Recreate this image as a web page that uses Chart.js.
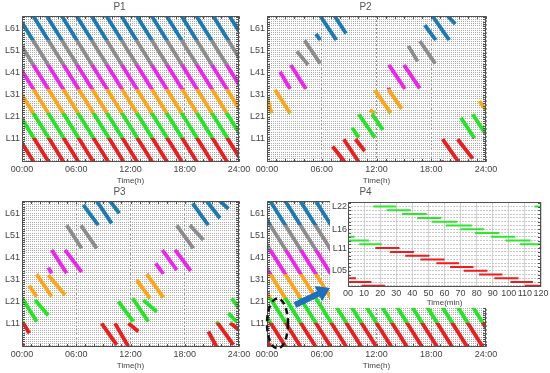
<!DOCTYPE html>
<html>
<head>
<meta charset="utf-8">
<script src="https://cdn.jsdelivr.net/npm/chart.js@4.4.0/dist/chart.umd.min.js"></script>
<style>
  body { margin: 0; background: #fff; }
  #wrap { position: relative; width: 550px; height: 373px; overflow: hidden; }
  canvas { position: absolute; }
</style>
</head>
<body>
<div id="wrap">
  <canvas id="p1" width="261" height="186" style="left:0;top:0"></canvas>
  <canvas id="p2" width="263" height="186" style="left:245px;top:0"></canvas>
  <canvas id="p3" width="261" height="186" style="left:0;top:185px"></canvas>
  <canvas id="p4" width="263" height="186" style="left:245px;top:185px"></canvas>
  <canvas id="zoom" width="220" height="112" style="left:330px;top:196px"></canvas>
</div>
<script>
// axis ticks
const hourTicks = [0, 6, 12, 18, 24];
const hourLabels = ['00:00', '06:00', '12:00', '18:00', '24:00'];
const lineTicks = [11, 21, 31, 41, 51, 61];
const lineLabels = ['L11', 'L21', 'L31', 'L41', 'L51', 'L61'];
const zoomMinTicks = [0, 10, 20, 30, 40, 50, 60, 70, 80, 90, 100, 110, 120];
const zoomMinLabels = ['00', '10', '20', '30', '40', '50', '60', '70', '80', '90', '100', '110', '120'];
const zoomLineTicks = [5, 11, 16, 22];
const zoomLineLabels = ['L05', 'L11', 'L16', 'L22'];

// line groups, bottom to top: L1-L11 red, L12-L22 green, ... L56-L66 blue
const bandColors = ['#ee1c1c', '#22e622', '#ffa514', '#f022f0', '#8c8c8c', '#1a7ab3'];
const bandEdges = [0.5, 11.5, 22.5, 33.5, 44.5, 55.5, 66.5];

// P1: through trains, hour they pass the top line and the bottom line
const p1Top = [-8.7, -7.05, -5.4, -3.75, -2.1, -0.45, 1.25, 2.75, 4.4, 6.05, 7.7, 9.35, 11.0, 12.7, 14.35, 16.0, 17.65, 19.3, 21.15, 22.95];
const p1Bottom = [1.3, 2.95, 4.6, 6.25, 7.9, 9.55, 11.25, 12.75, 14.4, 16.05, 17.7, 19.35, 21.0, 22.7, 24.35, 26.0, 27.65, 29.3, 31.15, 32.95];

// P4: same kind of schedule, other phase
const p4Top = [-9.6, -7.95, -6.3, -4.65, -3.0, -1.3, 0.35, 2.0, 3.65, 5.35, 7.0, 8.65, 10.3, 11.95, 13.65, 15.3, 16.95, 18.6, 20.25, 21.95, 23.6];
const p4Bottom = [0.4, 2.05, 3.7, 5.35, 7.0, 8.7, 10.35, 12.0, 13.65, 15.35, 17.0, 18.65, 20.3, 21.95, 23.65, 25.3, 26.95, 28.6, 30.25, 31.95, 33.6];

// P2, P3: [hour start, line start, hour end, line end]
const p2Segs = [
  [0.0, 29.8, 0.5, 22.5], [0.88, 33.2, 2.53, 22.5],
  [1.43, 41.3, 2.53, 33.5], [2.61, 44.4, 4.26, 33.5],
  [3.27, 50.5, 4.5, 44.5], [4.11, 55.5, 5.84, 45.0],
  [5.36, 58.4, 5.84, 55.6], [5.84, 66.5, 7.6, 55.6], [7.41, 66.5, 8.66, 58.6],
  [7.19, 7.5, 8.52, 0.5], [8.41, 10.8, 10.06, 0.5], [9.69, 10.8, 10.72, 5.5],
  [9.32, 16.0, 10.06, 11.5], [10.06, 22.1, 11.82, 11.5], [11.53, 22.1, 12.7, 15.0],
  [11.27, 24.0, 11.82, 22.6], [11.82, 33.0, 13.55, 22.6], [13.36, 33.0, 14.76, 24.5],
  [13.29, 34.0, 13.36, 33.5], [13.36, 44.4, 15.12, 33.5], [15.01, 44.4, 16.74, 33.8],
  [15.49, 53.0, 16.5, 46.0], [16.74, 55.2, 18.43, 45.0],
  [17.29, 62.4, 18.5, 55.6], [18.13, 66.5, 19.97, 55.6], [19.79, 66.5, 20.63, 62.9],
  [19.13, 1.0, 19.24, 0.5], [19.24, 10.8, 21.0, 0.5], [20.89, 10.8, 22.54, 2.0],
  [21.26, 20.5, 22.73, 11.2], [22.54, 22.1, 24.0, 13.0],
  [23.27, 28.0, 24.0, 24.0]
];
const p3Segs = [
  [0.0, 2.0, 0.15, 0.5], [0.03, 12.0, 0.81, 6.7],
  [0.03, 22.5, 1.62, 12.0], [1.44, 21.7, 2.91, 14.7],
  [0.81, 28.2, 1.62, 23.3], [1.62, 33.4, 3.28, 23.3], [2.91, 33.0, 4.76, 24.0],
  [2.91, 36.4, 3.28, 33.8], [3.28, 44.4, 4.94, 33.8], [4.76, 44.4, 6.6, 34.3],
  [4.94, 55.5, 6.6, 45.1], [6.52, 55.5, 8.26, 45.1],
  [6.78, 64.7, 8.44, 55.5], [8.26, 66.5, 9.92, 56.4], [9.73, 66.5, 10.77, 60.9],
  [8.81, 11.2, 10.47, 1.5], [10.29, 11.2, 11.76, 0.7], [11.76, 11.2, 12.87, 7.5],
  [10.66, 21.0, 12.31, 12.0], [12.24, 22.5, 13.97, 12.0], [13.42, 21.7, 14.9, 16.5],
  [12.68, 30.8, 14.16, 22.5], [13.79, 33.5, 15.63, 22.8],
  [14.79, 38.3, 15.63, 33.5], [15.52, 44.4, 17.11, 35.3], [16.92, 44.5, 18.66, 34.9],
  [17.11, 55.5, 18.95, 45.1], [18.58, 55.5, 20.06, 48.9],
  [18.88, 65.4, 20.61, 55.5], [20.43, 66.5, 21.9, 58.7], [21.9, 66.5, 22.83, 62.9],
  [20.61, 7.5, 21.53, 0.5], [21.53, 12.0, 23.38, 1.5], [23.01, 11.5, 24.0, 8.2],
  [22.83, 15.7, 23.75, 12.0], [23.2, 22.5, 24.0, 18.0]
];

// zoom of P4, first 120 min: [line, min start, min end]
const zoomGreen = [
  [22, 15.8, 29.8], [22, 116, 120], [21, 24, 39], [20, 33.5, 49], [19, 43, 58],
  [18, 52, 68], [17, 61, 77], [16, 70, 84.6], [15, 79, 94], [14, 89, 104], [14, 0, 4],
  [13, 98, 113.5], [13, 0, 13], [12, 107, 120], [12, 7, 21]
];
const zoomRed = [
  [11, 17, 32], [11, 119, 120], [10, 26, 41], [9, 35.6, 50.6], [8, 45, 60],
  [7, 55, 69], [6, 63.5, 78], [5, 72, 86.7], [4, 81.5, 96], [3, 91, 106], [3, 0, 5],
  [2, 101, 115], [2, 0, 14.6], [1, 110, 120], [1, 8.5, 23]
];

const FONT = "'Liberation Sans', Arial, sans-serif";
const allLines = [];
for (let i = 1; i <= 66; i++) allLines.push(i);
const allHours = [];
for (let i = 0; i <= 24; i++) allHours.push(i);

function bandGradient(chart) {
  const { ctx, chartArea, scales } = chart;
  if (!chartArea) return bandColors[0];
  const y = scales.y;
  const g = ctx.createLinearGradient(0, y.bottom, 0, y.top);
  const span = y.bottom - y.top;
  const f = v => Math.min(1, Math.max(0, (y.bottom - y.getPixelForValue(v)) / span));
  for (let i = 0; i < bandColors.length; i++) {
    g.addColorStop(f(bandEdges[i]), bandColors[i]);
    g.addColorStop(f(bandEdges[i + 1]), bandColors[i]);
  }
  return g;
}

// box round the plot with small ticks on every edge
const framePlugin = {
  id: 'frame',
  afterDatasetsDraw(chart, args, opts) {
    const { ctx, chartArea: a, scales: { x, y } } = chart;
    const L = Math.round(a.left) + 0.5, R = Math.round(a.right) - 0.5;
    const T = Math.round(a.top) + 0.5, B = Math.round(a.bottom) - 0.5;
    ctx.save();
    ctx.strokeStyle = '#505050';
    ctx.lineWidth = 1;
    ctx.strokeRect(L, T, R - L, B - T);
    ctx.beginPath();
    y.ticks.forEach(t => {
      const p = Math.round(y.getPixelForValue(t.value)) + 0.5;
      ctx.moveTo(L, p); ctx.lineTo(L + 2.5, p);
      ctx.moveTo(R, p); ctx.lineTo(R - 2.5, p);
    });
    (opts.minorX || []).forEach(v => {
      const p = Math.round(x.getPixelForValue(v)) + 0.5;
      ctx.moveTo(p, T); ctx.lineTo(p, T + 2.5);
      ctx.moveTo(p, B); ctx.lineTo(p, B - 2.5);
    });
    ctx.stroke();
    ctx.restore();
  }
};

// circle and arrow pointing at the zoom box
const notePlugin = {
  id: 'note',
  afterDraw(chart) {
    const ctx = chart.ctx;
    ctx.save();
    ctx.strokeStyle = '#111';
    ctx.lineWidth = 2.5;
    ctx.setLineDash([6, 4]);
    ctx.beginPath();
    ctx.ellipse(32.5, 138.5, 10.5, 25, 0, 0, Math.PI * 2);
    ctx.stroke();
    ctx.setLineDash([]);
    const x0 = 50, y0 = 120, x1 = 85, y1 = 103;
    const ang = Math.atan2(y1 - y0, x1 - x0);
    const len = Math.hypot(x1 - x0, y1 - y0);
    ctx.translate(x0, y0);
    ctx.rotate(ang);
    ctx.fillStyle = '#1f6fbf';
    ctx.beginPath();
    ctx.moveTo(0, -3); ctx.lineTo(len - 13, -3); ctx.lineTo(len - 13, -8.5);
    ctx.lineTo(len, 0);
    ctx.lineTo(len - 13, 8.5); ctx.lineTo(len - 13, 3); ctx.lineTo(0, 3);
    ctx.closePath();
    ctx.fill();
    ctx.restore();
  }
};

const whiteBg = {
  id: 'whiteBg',
  beforeDraw(chart) {
    const ctx = chart.ctx;
    ctx.save();
    ctx.fillStyle = '#fff';
    ctx.fillRect(0, 0, chart.width, chart.height);
    ctx.restore();
  }
};

function gapped(points) {
  const out = [];
  points.forEach(p => out.push({ x: p[0], y: p[1] }, { x: p[2], y: p[3] }, { x: p[2], y: null }));
  return out;
}

function panel(id, title, segs, extra) {
  return new Chart(document.getElementById(id), {
    type: 'line',
    data: {
      datasets: [{
        data: gapped(segs),
        borderColor: c => bandGradient(c.chart),
        borderWidth: 3.8,
        pointRadius: 0,
        spanGaps: false,
        clip: 0
      }]
    },
    options: {
      responsive: false,
      animation: false,
      devicePixelRatio: 1,
      layout: { padding: { right: 22 } },
      plugins: {
        legend: { display: false },
        tooltip: { enabled: false },
        title: {
          display: true, text: title, color: '#555',
          font: { size: 10, family: FONT, weight: 'normal' },
          padding: { top: 1, bottom: 3 }
        },
        frame: { minorX: allHours }
      },
      scales: {
        x: {
          type: 'linear', min: 0, max: 24,
          afterBuildTicks: s => { s.ticks = hourTicks.map(v => ({ value: v })); },
          afterFit: s => { s.height = 24; s.paddingLeft = 0; s.paddingRight = 0; },
          ticks: {
            callback: v => hourLabels[hourTicks.indexOf(v)],
            color: '#444', font: { size: 9, family: FONT }, padding: 2,
            maxRotation: 0, autoSkip: false
          },
          grid: { color: '#999', drawTicks: false },
          border: { display: false, dash: [2, 2] },
          title: { display: true, text: 'Time(h)', color: '#444', font: { size: 8, family: FONT }, padding: 0 }
        },
        y: {
          type: 'linear', min: 0.5, max: 66.5,
          afterBuildTicks: s => { s.ticks = allLines.map(v => ({ value: v })); },
          afterFit: s => { s.width = 22; },
          ticks: {
            callback: v => { const i = lineTicks.indexOf(v); return i >= 0 ? lineLabels[i] : ''; },
            color: '#444', font: { size: 9, family: FONT }, padding: 2, autoSkip: false
          },
          grid: { color: '#ababab', drawTicks: false },
          border: { display: false, dash: [1, 1] }
        }
      }
    },
    plugins: [framePlugin].concat(extra || [])
  });
}

function stripes(top, bottom) {
  return top.map((t, i) => [t, 66.5, bottom[i], 0.5]);
}

panel('p1', 'P1', stripes(p1Top, p1Bottom));
panel('p2', 'P2', p2Segs);
panel('p3', 'P3', p3Segs);
panel('p4', 'P4', stripes(p4Top, p4Bottom), [notePlugin]);

function bars(list) {
  return gapped(list.map(b => [b[1], b[0], b[2], b[0]]));
}

new Chart(document.getElementById('zoom'), {
  type: 'line',
  data: {
    datasets: [
      { data: bars(zoomGreen), borderColor: '#2ee62e', borderWidth: 2, pointRadius: 0, spanGaps: false, clip: 0 },
      { data: bars(zoomRed), borderColor: '#ee1c1c', borderWidth: 2, pointRadius: 0, spanGaps: false, clip: 0 }
    ]
  },
  options: {
    responsive: false,
    animation: false,
    devicePixelRatio: 1,
    layout: { padding: { top: 5, right: 9 } },
    plugins: { legend: { display: false }, tooltip: { enabled: false }, frame: { minorX: [] } },
    scales: {
      x: {
        type: 'linear', min: 0, max: 120,
        afterBuildTicks: s => { s.ticks = zoomMinTicks.map(v => ({ value: v })); },
        afterFit: s => { s.height = 21; s.paddingLeft = 0; s.paddingRight = 0; },
        ticks: {
          callback: v => zoomMinLabels[zoomMinTicks.indexOf(v)],
          color: '#444', font: { size: 9, family: FONT }, padding: 1,
          maxRotation: 0, autoSkip: false
        },
        grid: { color: '#d2d2d2', drawTicks: false },
        border: { display: false },
        title: { display: true, text: 'Time(min)', color: '#444', font: { size: 8, family: FONT }, padding: 0 }
      },
      y: {
        type: 'linear', min: 0.7, max: 23.1,
        afterBuildTicks: s => { const t = []; for (let i = 1; i <= 23; i++) t.push({ value: i }); s.ticks = t; },
        afterFit: s => { s.width = 18; },
        ticks: {
          callback: v => { const i = zoomLineTicks.indexOf(v); return i >= 0 ? zoomLineLabels[i] : ''; },
          color: '#444', font: { size: 9, family: FONT }, padding: 1, autoSkip: false
        },
        grid: { color: '#c8c8c8', drawTicks: false },
        border: { display: false, dash: [2, 1] }
      }
    }
  },
  plugins: [whiteBg, framePlugin]
});
</script>
</body>
</html>
